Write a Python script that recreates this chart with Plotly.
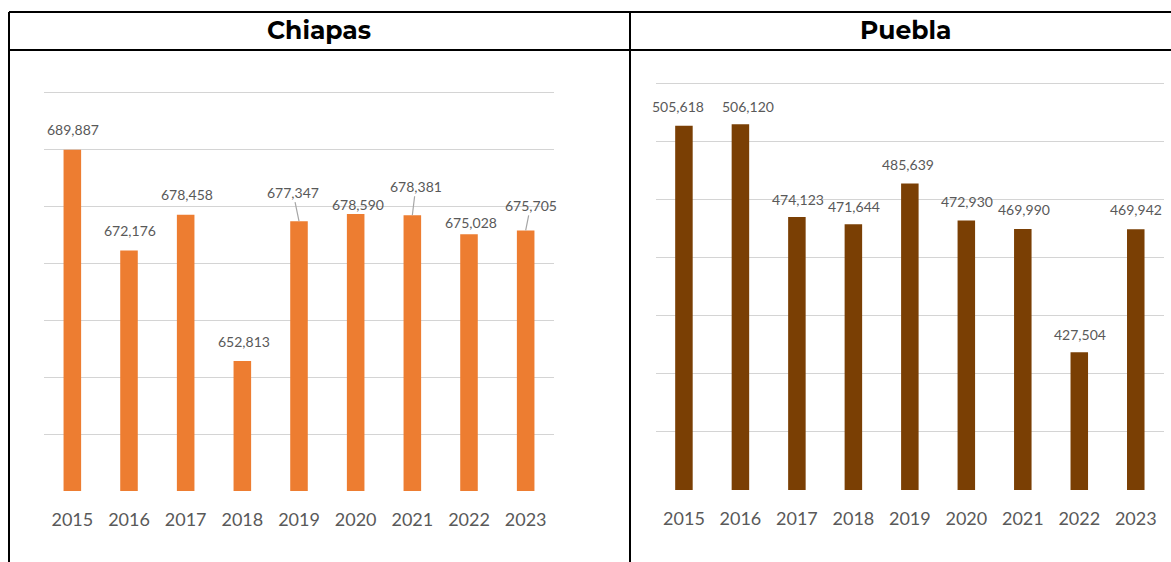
import plotly.graph_objects as go

# Years on the category axis
years = ["2015", "2016", "2017", "2018", "2019", "2020", "2021", "2022", "2023"]

# Annual values per state
chiapas = [689887, 672176, 678458, 652813, 677347, 678590, 678381, 675028, 675705]
puebla = [505618, 506120, 474123, 471644, 485639, 472930, 469990, 427504, 469942]

# Label offsets (pixels from the top of each bar) and whether a leader line is drawn
chiapas_offsets = [(1, -20), (1, -20), (1, -20), (1.5, -19), (-6, -29),
                   (2.5, -9.5), (3.5, -29), (2, -12), (5, -25)]
chiapas_leader = [False, False, False, False, True, False, True, False, True]
puebla_offsets = [(-6, -19), (8, -18), (1, -18), (1, -18), (-1.5, -19),
                  (1, -19), (1, -19.5), (1, -18), (0.5, -20)]
puebla_leader = [False] * 9

W, H = 1171, 562
ORANGE = "#ED7D31"
BROWN = "#7A3F04"
TEXT_GRAY = "#595959"
GRID = "#D4D4D4"
LABEL_FONT = dict(family="Lato, Calibri, sans-serif", size=14, color=TEXT_GRAY)
TICK_FONT = dict(family="Lato, Calibri, sans-serif", size=18, color=TEXT_GRAY)

pos = list(range(len(years)))


def px_x(p):
    return p / W


def px_y(p):
    return 1 - p / H


fig = go.Figure()
fig.add_trace(go.Bar(x=pos, y=chiapas, marker=dict(color=ORANGE, line=dict(width=0)),
                     xaxis="x", yaxis="y", hovertext=years, showlegend=False))
fig.add_trace(go.Bar(x=pos, y=puebla, marker=dict(color=BROWN, line=dict(width=0)),
                     xaxis="x2", yaxis="y2", hovertext=years, showlegend=False))

annotations = []


def add_value_labels(values, offsets, leaders, xref, yref):
    for i, v, (dx, dy), lead in zip(pos, values, offsets, leaders):
        txt = f"{v:,}"
        if lead:
            annotations.append(dict(
                x=i, y=v, xref=xref, yref=yref, text=txt, font=LABEL_FONT,
                showarrow=True, ax=dx, ay=dy, arrowhead=0, arrowwidth=1.2,
                arrowcolor="#A6A6A6", standoff=0, startstandoff=0))
        else:
            annotations.append(dict(
                x=i, y=v, xref=xref, yref=yref, text=txt, font=LABEL_FONT,
                showarrow=False, xanchor="center", yanchor="middle",
                xshift=dx, yshift=-dy))


add_value_labels(chiapas, chiapas_offsets, chiapas_leader, "x", "y")
add_value_labels(puebla, puebla_offsets, puebla_leader, "x2", "y2")

# Header titles
title_font = dict(family="Montserrat, 'Open Sans', sans-serif", size=25, color="#000000")
annotations.append(dict(x=px_x(319), y=px_y(30), xref="paper", yref="paper",
                        text="<b>Chiapas</b>", font=title_font, showarrow=False,
                        xanchor="center", yanchor="middle"))
annotations.append(dict(x=px_x(905), y=px_y(30), xref="paper", yref="paper",
                        text="<b>Puebla</b>", font=title_font, showarrow=False,
                        xanchor="center", yanchor="middle"))

# Table borders framing the two panels
line = dict(color="#000000", width=2)
shapes = [
    dict(type="line", xref="paper", yref="paper", x0=px_x(9), x1=1, y0=px_y(12), y1=px_y(12), line=line),
    dict(type="line", xref="paper", yref="paper", x0=px_x(9), x1=1, y0=px_y(50), y1=px_y(50), line=line),
    dict(type="line", xref="paper", yref="paper", x0=px_x(9), x1=px_x(9), y0=px_y(12), y1=0, line=line),
    dict(type="line", xref="paper", yref="paper", x0=px_x(630), x1=px_x(630), y0=px_y(12), y1=0, line=line),
]

xaxis_common = dict(range=[-0.5, len(years) - 0.5], tickmode="array", tickvals=pos,
                    ticktext=years, showgrid=False, zeroline=False, showline=False,
                    ticks="outside", ticklen=12, tickcolor="rgba(0,0,0,0)",
                    tickfont=TICK_FONT, fixedrange=True, automargin=False)
yaxis_common = dict(showgrid=True, gridcolor=GRID, gridwidth=1.3, zeroline=False,
                    showline=False, showticklabels=False, ticks="", fixedrange=True,
                    automargin=False)

# Ranges run slightly past the top gridline so that line stays visible
fig.update_layout(
    template="none",
    width=W, height=H,
    margin=dict(l=0, r=0, t=0, b=0, autoexpand=False),
    paper_bgcolor="white", plot_bgcolor="white",
    bargap=0.69,
    showlegend=False,
    xaxis=dict(domain=[px_x(44), px_x(554)], anchor="y", **xaxis_common),
    yaxis=dict(domain=[px_y(491), px_y(90.3)], anchor="x", range=[630000, 700300],
               tickmode="linear", dtick=10000, tick0=0, **yaxis_common),
    xaxis2=dict(domain=[px_x(655.7), px_x(1164)], anchor="y2", **xaxis_common),
    yaxis2=dict(domain=[px_y(490), px_y(82.5)], anchor="x2", range=[380000, 520500],
                tickmode="linear", dtick=20000, tick0=0, **yaxis_common),
    annotations=annotations,
    shapes=shapes,
)

fig.write_html("out.html")
